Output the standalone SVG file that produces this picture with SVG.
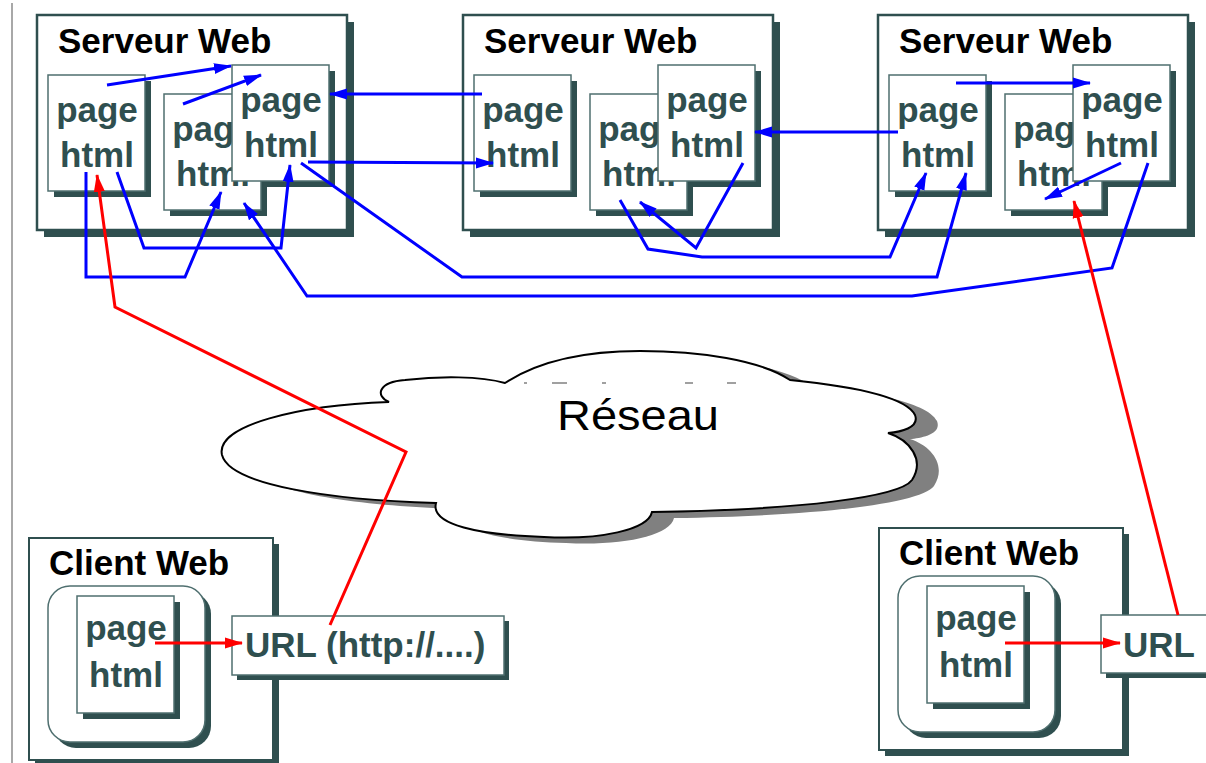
<svg xmlns="http://www.w3.org/2000/svg" xmlns:xlink="http://www.w3.org/1999/xlink" width="1206" height="763" viewBox="0 0 1206 763">
  <defs>
    <style>
      .frame { fill: #ffffff; stroke: #2f4f4f; stroke-width: 2.5; }
      .shadow { fill: #2f4f4f; }
      .page { fill: #ffffff; stroke: #4f6f6f; stroke-width: 1.5; }
      .title { font-family: "Liberation Sans", Arial, sans-serif; font-weight: bold; font-size: 35px; fill: #000000; }
      .ptext { font-family: "Liberation Sans", Arial, sans-serif; font-weight: bold; font-size: 35px; fill: #2f4f4f; text-anchor: middle; }
      .url { font-family: "Liberation Sans", Arial, sans-serif; font-weight: bold; font-size: 35px; fill: #2f4f4f; }
      .blue { fill: none; stroke: #0000ff; stroke-width: 3; }
      .red { fill: none; stroke: #ff0000; stroke-width: 3; }
      .cloud { fill: #ffffff; stroke: #000000; stroke-width: 2; }
    </style>
    <marker id="arrow-blue" markerUnits="userSpaceOnUse" markerWidth="20" markerHeight="14" refX="17" refY="7" orient="auto">
      <path d="M0,1.5 L18,7 L0,12.5 Z" fill="#0000ff"/>
    </marker>
    <marker id="arrow-red" markerUnits="userSpaceOnUse" markerWidth="20" markerHeight="14" refX="17" refY="7" orient="auto">
      <path d="M0,1.5 L18,7 L0,12.5 Z" fill="#ff0000"/>
    </marker>
    <!-- html page sheet: drop shadow and face are separate so stacked sheets overlap correctly -->
    <rect id="pg-shadow" x="6" y="6" width="97" height="116" class="shadow"/>
    <g id="pg-face">
      <rect class="page" width="97" height="116"/>
      <text class="ptext" x="49" y="47">page</text>
      <text class="ptext" x="49" y="92">html</text>
    </g>
    <!-- server frame -->
    <g id="server-frame">
      <rect x="7" y="7" width="310" height="215" class="shadow"/>
      <rect width="310" height="215" class="frame"/>
      <text class="title" x="21" y="38">Serveur Web</text>
    </g>
    <!-- three stacked pages inside a server -->
    <g id="server-pages">
      <use xlink:href="#pg-shadow" transform="translate(11,60)"/>
      <use xlink:href="#pg-face" transform="translate(11,60)"/>
      <use xlink:href="#pg-shadow" transform="translate(195,50)"/>
      <use xlink:href="#pg-shadow" transform="translate(127,79)"/>
      <use xlink:href="#pg-face" transform="translate(127,79)"/>
      <use xlink:href="#pg-face" transform="translate(195,50)"/>
    </g>
    <!-- client frame with browser window and page -->
    <g id="client-frame">
      <rect x="6" y="6" width="244" height="222" class="shadow"/>
      <rect width="244" height="222" class="frame" style="stroke-width:2"/>
      <text class="title" x="20" y="37">Client Web</text>
      <rect x="25" y="54" width="157" height="156" rx="22" class="shadow"/>
      <rect x="19" y="48" width="157" height="156" rx="22" class="page"/>
      <rect x="54" y="64" width="97" height="117" class="shadow"/>
      <rect x="48" y="58" width="97" height="117" class="page"/>
      <text class="ptext" x="97" y="102">page</text>
      <text class="ptext" x="97" y="149">html</text>
    </g>
    <path id="cloud-shape" d="M389,402 C375,396 378,382 405,380 C440,376 480,376 505,383 C540,360 590,351 640,351 C700,351 760,360 790,380 C840,385 905,395 915,415 C920,428 900,432 888,433 C910,440 925,460 912,480 C900,497 800,510 652,512 C648,530 600,540 544,537 C480,535 430,525 436,503 C330,500 230,485 222,455 C215,425 300,405 389,402 Z"/>
  </defs>

  <rect width="1206" height="763" fill="#ffffff"/>
  <line x1="12" y1="3" x2="12" y2="763" stroke="#a8a8a8" stroke-width="2"/>

  <g id="server-left" transform="translate(37,15)">
    <use xlink:href="#server-frame"/>
    <use xlink:href="#server-pages"/>
  </g>
  <g id="server-middle" transform="translate(463,15)">
    <use xlink:href="#server-frame"/>
    <use xlink:href="#server-pages"/>
  </g>
  <g id="server-right" transform="translate(878,15)">
    <use xlink:href="#server-frame"/>
    <use xlink:href="#server-pages"/>
  </g>

  <g id="network">
    <use xlink:href="#cloud-shape" fill="#808080" transform="translate(22,6)"/>
    <use xlink:href="#cloud-shape" class="cloud"/>
    <g stroke="#a0a0a0" stroke-width="2">
      <line x1="524" y1="383" x2="527" y2="383"/>
      <line x1="552" y1="383" x2="567" y2="383"/>
      <line x1="602" y1="383" x2="606" y2="383"/>
      <line x1="685" y1="383" x2="693" y2="383"/>
      <line x1="727" y1="383" x2="736" y2="383"/>
    </g>
    <text x="557" y="430" font-family="'Liberation Sans', Arial, sans-serif" font-size="42" textLength="162" lengthAdjust="spacingAndGlyphs" fill="#000000">Réseau</text>
  </g>

  <g id="client-left">
    <use xlink:href="#client-frame" transform="translate(29,538)"/>
    <rect x="237" y="621" width="272" height="59" class="shadow"/>
    <rect x="232" y="616" width="272" height="59" class="page"/>
    <text class="url" x="245" y="657">URL (http://....)</text>
  </g>

  <g id="client-right">
    <use xlink:href="#client-frame" transform="translate(879,528)"/>
    <rect x="1106" y="620" width="120" height="58" class="shadow"/>
    <rect x="1101" y="615" width="120" height="58" class="page"/>
    <text class="url" x="1123" y="657">URL</text>
  </g>

  <g id="connectors">
    <!-- links between html pages -->
    <path class="blue" marker-end="url(#arrow-blue)" d="M107,85 L231,66"/>
    <path class="blue" marker-end="url(#arrow-blue)" d="M183,104 L261,75"/>
    <path class="blue" marker-end="url(#arrow-blue)" d="M482,94 L330,94"/>
    <path class="blue" marker-end="url(#arrow-blue)" d="M308,162 L493,163"/>
    <path class="blue" marker-end="url(#arrow-blue)" d="M86,172 L86,277 L185,277 L221,192"/>
    <path class="blue" marker-end="url(#arrow-blue)" d="M117,172 L144,248 L281,248 L290,165"/>
    <path class="blue" marker-end="url(#arrow-blue)" d="M301,163 L462,277 L937,277 L966,173"/>
    <path class="blue" marker-end="url(#arrow-blue)" d="M1148,163 L1112,268 L912,296 L307,296 L244,203"/>
    <path class="blue" marker-end="url(#arrow-blue)" d="M743,163 L696,248 L640,202"/>
    <path class="blue" marker-end="url(#arrow-blue)" d="M620,200 L648,249 L702,257 L890,257 L926,173"/>
    <path class="blue" marker-end="url(#arrow-blue)" d="M898,132 L755,132"/>
    <path class="blue" marker-end="url(#arrow-blue)" d="M956,83 L1090,83"/>
    <path class="blue" marker-end="url(#arrow-blue)" d="M1121,163 L1045,199"/>
    <!-- client requests -->
    <path class="red" marker-end="url(#arrow-red)" d="M330,625 L406,452 L115,307 L97,175"/>
    <path class="red" marker-end="url(#arrow-red)" d="M155,643 L242,643"/>
    <path class="red" marker-end="url(#arrow-red)" d="M1005,643 L1120,643"/>
    <path class="red" marker-end="url(#arrow-red)" d="M1178,615 L1074,201"/>
  </g>
</svg>
